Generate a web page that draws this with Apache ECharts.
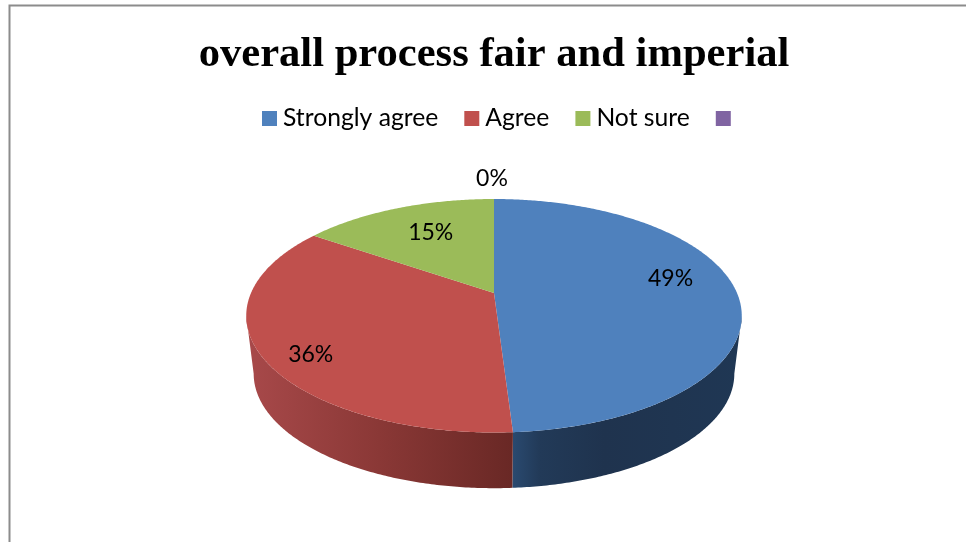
<!DOCTYPE html>
<html><head><meta charset="utf-8">
<style>html,body{margin:0;padding:0;background:#fff}#c{width:966px;height:542px}</style>
<script src="https://cdn.jsdelivr.net/npm/echarts@6/dist/echarts.min.js"></script>
</head><body><div id="c"></div>
<script>
const titleText = 'overall process fair and imperial';
const categories = ['Strongly agree', 'Agree', 'Not sure', ' '];
const shares = [49, 35.6, 15.4, 0];
const colors = ['#4f81bd', '#c0504d', '#9bbb59', '#8064a2'];
const sideStops = [
  [[0,'#2a4a70'],[0.12,'#223a58'],[0.4,'#1f334e'],[1,'#1f3754']],
  [[0,'#a8494a'],[0.5,'#8a3836'],[1,'#692825']],
  [[0,'#7a9144'],[1,'#7a9144']],
  [[0,'#5f4a7a'],[1,'#5f4a7a']]
];
const labelRadius = [0.73, 0.8, 0.62, 1];
const labelLift = [-12, 14, -5, -20];
const labelShift = [0, 0, 0, -2];

const apexX = 494, apexY = 293, bx = 243, by = 112.3, persp = 0.195;
const ellipseMidY = 316, depthMidY = 374, baseScale = 0.97;
const total = shares.reduce((a, b) => a + b, 0);
const frontStart = Math.acos(-persp), frontEnd = 2 * Math.PI - frontStart;

function project(theta, r) {
  const X = r * Math.sin(theta), Z = r * Math.cos(theta), d = 1 + persp * Z;
  return [apexX + bx * X / d, apexY - by * Z / d];
}
function base(p) {
  return [apexX + (p[0] - apexX) * baseScale, depthMidY + (p[1] - ellipseMidY) * 0.98];
}
function arcPoints(a0, a1) {
  const n = Math.max(2, Math.ceil((a1 - a0) / 0.01)), pts = [];
  for (let i = 0; i <= n; i++) pts.push(project(a0 + (a1 - a0) * i / n, 1));
  return pts;
}
function renderer(idx) {
  return function () {
    const before = shares.slice(0, idx).reduce((a, b) => a + b, 0);
    const a0 = before / total * 2 * Math.PI;
    const a1 = (before + shares[idx]) / total * 2 * Math.PI;
    const mid = (a0 + a1) / 2;
    const lp = project(mid, labelRadius[idx]);
    const children = [];
    if (shares[idx] > 0) {
      const s0 = Math.max(a0, frontStart), s1 = Math.min(a1, frontEnd);
      if (s1 > s0) {
        const rimF = arcPoints(s0, s1);
        const low = rimF.map(base).reverse();
        const xs = rimF.concat(low).map(p => p[0]);
        const x0 = Math.min.apply(null, xs), x1 = Math.max.apply(null, xs);
        children.push({
          type: 'polygon', z2: 1, shape: { points: rimF.concat(low) },
          style: { fill: new echarts.graphic.LinearGradient(x0, 0, x1, 0,
            sideStops[idx].map(s => ({ offset: s[0], color: s[1] })), true) }
        });
      }
      children.push({
        type: 'polygon', z2: 2, shape: { points: [[apexX, apexY]].concat(arcPoints(a0, a1)) },
        style: { fill: colors[idx] }
      });
    }
    children.push({
      type: 'text', z2: 5, x: lp[0] + labelShift[idx], y: lp[1] + labelLift[idx],
      style: { text: Math.round(shares[idx] / total * 100) + '%', fill: '#000',
        font: '23px Lato', align: 'center', verticalAlign: 'middle' }
    });
    return { type: 'group', children };
  };
}
const chart = echarts.init(document.getElementById('c'), null, { renderer: 'canvas' });
chart.setOption({
  animation: false,
  backgroundColor: '#fff',
  title: { text: titleText, left: 489, top: 28, textAlign: 'center',
    textStyle: { fontFamily: 'Liberation Serif', fontWeight: 'bold', fontSize: 42.6, color: '#000' } },
  legend: { left: 257, top: 101, itemWidth: 15, itemHeight: 15, itemGap: 26, icon: 'rect',
    selectedMode: false, data: categories,
    textStyle: { fontFamily: 'Lato', fontSize: 24.7, color: '#000', padding: [0,0,0,1] } },
  graphic: [{ type: 'polyline', silent: true,
    shape: { points: [[9.5, 542], [9.5, 5.5], [966, 5.5]] },
    style: { stroke: '#8c8c8c', lineWidth: 2, fill: 'none' } }],
  series: categories.map((name, i) => ({
    type: 'custom', name, coordinateSystem: 'none', silent: true,
    itemStyle: { color: colors[i] }, data: [[shares[i]]], renderItem: renderer(i)
  }))
});
</script></body></html>
